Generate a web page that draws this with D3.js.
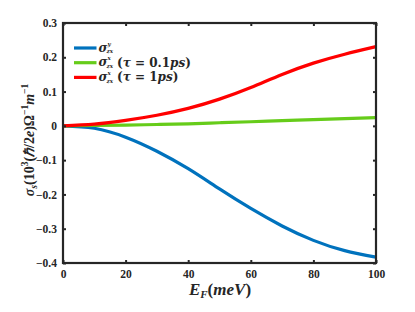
<!DOCTYPE html>
<html><head><meta charset="utf-8">
<script src="https://cdn.jsdelivr.net/npm/d3@7"></script>
<style>body{margin:0;background:#fff}svg{display:block}</style>
</head><body>
<script>
const energies = [0,10,20,30,40,50,60,70,80,90,100];
const sigmaY = [0,-0.007,-0.033,-0.074,-0.125,-0.184,-0.241,-0.292,-0.334,-0.364,-0.383];
const sigmaX01 = [0,0.001,0.002,0.004,0.006,0.009,0.012,0.015,0.018,0.021,0.024];
const sigmaX1 = [0,0.005,0.016,0.031,0.051,0.078,0.112,0.150,0.183,0.209,0.231];
const xTicks = [0,20,40,60,80,100];
const yTicks = [0.3,0.2,0.1,0,-0.1,-0.2,-0.3,-0.4];
const legendSup = ["y","x","x"];
const legendTau = ["","0.1","1"];
const colors = ["#0072BD","#66CC1A","#FF0000"];

const W=415,H=312;
const m={l:63,r:39,t:23,b:49};
const svg=d3.select("body").append("svg").attr("width",W).attr("height",H);
const x=d3.scaleLinear().domain([0,100]).range([m.l,W-m.r]);
const y=d3.scaleLinear().domain([-0.4,0.3]).range([H-m.b,m.t]);
const font="'Liberation Serif','Times New Roman',serif";
const mfont="'DejaVu Serif',serif";
const axColor="#262626";

const line=d3.line().x((d,i)=>x(energies[i])).y(d=>y(d)).curve(d3.curveNatural);
const series=[sigmaY,sigmaX01,sigmaX1];
series.forEach((s,i)=>{
  svg.append("path").datum(s).attr("d",line).attr("fill","none")
    .attr("stroke",colors[i]).attr("stroke-width",3.2);
});

const fmt=d=>d===0?"0":d3.format(".1f")(d);
const gx=svg.append("g").attr("transform",`translate(0,${H-m.b})`)
  .call(d3.axisBottom(x).tickValues(xTicks).tickSizeInner(-3).tickSizeOuter(0).tickPadding(7));
const gy=svg.append("g").attr("transform",`translate(${m.l},0)`)
  .call(d3.axisLeft(y).tickValues(yTicks).tickFormat(fmt).tickSizeInner(-3).tickSizeOuter(0).tickPadding(6));
const gt=svg.append("g").attr("transform",`translate(0,${m.t})`)
  .call(d3.axisTop(x).tickValues(xTicks).tickFormat("").tickSizeInner(-3).tickSizeOuter(0));
const gr=svg.append("g").attr("transform",`translate(${W-m.r},0)`)
  .call(d3.axisRight(y).tickValues(yTicks).tickFormat("").tickSizeInner(-3).tickSizeOuter(0));
[gx,gy,gt,gr].forEach(g=>{
  g.select(".domain").remove();
  g.selectAll(".tick line").attr("stroke",axColor).attr("stroke-width",2);
  g.selectAll("text").attr("font-family",font).attr("font-weight","bold").attr("font-size",11.5).attr("fill",axColor);
});
svg.append("rect").attr("x",m.l).attr("y",m.t).attr("width",W-m.r-m.l).attr("height",H-m.b-m.t)
  .attr("fill","none").attr("stroke",axColor).attr("stroke-width",2.2);

// x label
const xl=svg.append("text").attr("x",220).attr("y",295).attr("text-anchor","middle")
  .attr("font-family",font).attr("font-size",17).attr("font-weight","bold").attr("fill",axColor);
xl.append("tspan").attr("font-style","italic").text("E");
xl.append("tspan").attr("font-style","italic").attr("font-size",11).attr("dy",3).text("F");
xl.append("tspan").attr("dy",-3).text("(");
xl.append("tspan").attr("font-style","italic").text("meV");
xl.append("tspan").text(")");

// y label
const yl=svg.append("text").attr("transform","translate(34,140) rotate(-90)").attr("text-anchor","middle")
  .attr("font-family",font).attr("font-size",14).attr("font-weight","bold").attr("fill",axColor);
yl.append("tspan").attr("font-style","italic").text("σ");
yl.append("tspan").attr("font-style","italic").attr("font-size",9.5).attr("dy",3).text("s");
yl.append("tspan").attr("dy",-3).text("(10");
yl.append("tspan").attr("font-size",9.5).attr("dy",-6).text("3");
yl.append("tspan").attr("dy",6).text("(");
yl.append("tspan").attr("font-style","italic").text("ℏ");
yl.append("tspan").text("/2");
yl.append("tspan").attr("font-style","italic").text("e");
yl.append("tspan").text(")Ω");
yl.append("tspan").attr("font-size",9.5).attr("dy",-6).text("−1");
yl.append("tspan").attr("font-style","italic").attr("dy",6).text("m");
yl.append("tspan").attr("font-size",9.5).attr("dy",-6).text("−1");

// legend
legendSup.forEach((sup,i)=>{
  const yy=48+i*14.7;
  svg.append("line").attr("x1",74).attr("x2",96.5).attr("y1",yy).attr("y2",yy)
    .attr("stroke",colors[i]).attr("stroke-width",3.2);
  svg.append("text").attr("x",98.5).attr("y",yy+3.5).attr("font-family",mfont)
    .attr("font-size",12).attr("font-weight","bold").attr("font-style","italic").attr("fill",axColor).text("σ");
  const sx=106.5;
  svg.append("text").attr("x",sx+1).attr("y",yy-2.3).attr("font-family",mfont).attr("font-size",5.6)
    .attr("font-weight","bold").attr("font-style","italic").attr("fill",axColor).text(sup);
  svg.append("text").attr("x",sx).attr("y",yy+5.3).attr("font-family",mfont).attr("font-size",5.6)
    .attr("font-weight","bold").attr("font-style","italic").attr("fill",axColor).text("zx");
  if(legendTau[i]){
    const tt=svg.append("text").attr("x",117).attr("y",yy+4).attr("font-family",mfont)
      .attr("font-size",12).attr("font-weight","bold").attr("fill",axColor);
    tt.append("tspan").text("(");
    tt.append("tspan").attr("font-style","italic").text("τ");
    tt.append("tspan").text(" = "+legendTau[i]);
    tt.append("tspan").attr("font-style","italic").text("ps");
    tt.append("tspan").text(")");
  }
});
</script>
</body></html>
